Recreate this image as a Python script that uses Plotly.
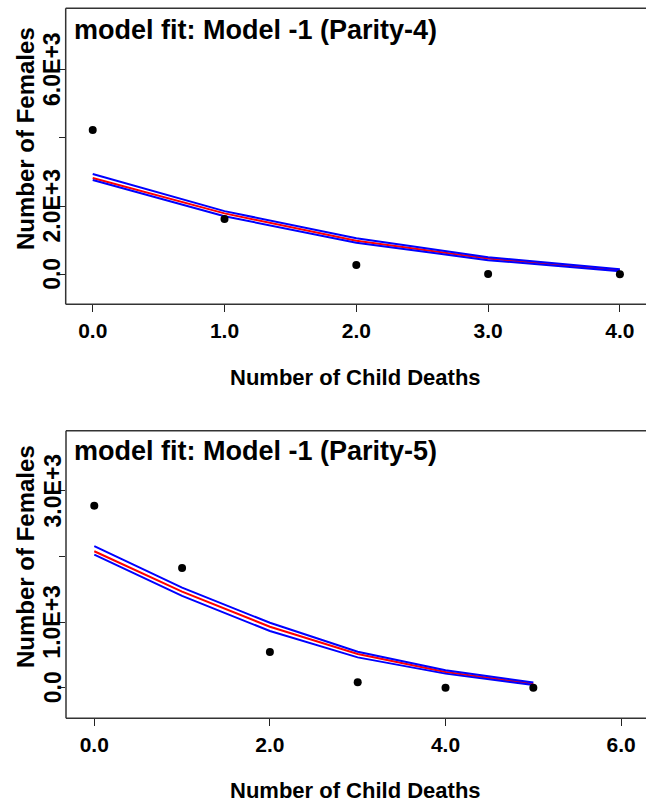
import plotly.graph_objects as go

# ---- Data: Parity-4 panel ----
x_p4 = [0, 1, 2, 3, 4]
obs_p4 = [4225, 1620, 275, 10, 0]
fit_p4 = [2820, 1785, 984, 460, 120]
upper_p4 = [2940, 1850, 1054, 500, 150]
lower_p4 = [2760, 1700, 925, 415, 90]

# ---- Data: Parity-5 panel ----
x_p5 = [0, 1, 2, 3, 4, 5]
obs_p5 = [2775, 1825, 545, 85, 0, 0]
fit_p5 = [2080, 1465, 930, 514, 240, 60]
upper_p5 = [2160, 1525, 990, 549, 265, 78]
lower_p5 = [2030, 1400, 864, 463, 215, 40]

title_p4 = "model fit: Model -1 (Parity-4)"
title_p5 = "model fit: Model -1 (Parity-5)"
xlab = "Number of Child Deaths"
ylab = "Number of Females"

xt_p4 = [0, 1, 2, 3, 4]
xtl_p4 = ["0.0", "1.0", "2.0", "3.0", "4.0"]
yt_p4 = [0, 2000, 4000, 6000]
ytl_p4 = ["0.0", "2.0E+3", "", "6.0E+3"]
xt_p5 = [0, 2, 4, 6]
xtl_p5 = ["0.0", "2.0", "4.0", "6.0"]
yt_p5 = [0, 1000, 2000, 3000]
ytl_p5 = ["0.0", "1.0E+3", "", "3.0E+3"]

W, H = 646, 805
FONT = "Liberation Sans, Arial, sans-serif"
RED = "#ff0000"
BLUE = "#0000ff"
FRAME = "#333333"

fig = go.Figure()

def add_panel(xs, obs, fit, up, lo, xa, ya):
    fig.add_trace(go.Scatter(x=xs, y=fit, mode="lines", line=dict(color=RED, width=2),
                             xaxis=xa, yaxis=ya, showlegend=False, hoverinfo="skip"))
    fig.add_trace(go.Scatter(x=xs, y=up, mode="lines", line=dict(color=BLUE, width=2),
                             xaxis=xa, yaxis=ya, showlegend=False, hoverinfo="skip"))
    fig.add_trace(go.Scatter(x=xs, y=lo, mode="lines", line=dict(color=BLUE, width=2),
                             xaxis=xa, yaxis=ya, showlegend=False, hoverinfo="skip"))
    fig.add_trace(go.Scatter(x=xs, y=obs, mode="markers",
                             marker=dict(color="black", size=8, line=dict(width=0)),
                             xaxis=xa, yaxis=ya, showlegend=False, hoverinfo="skip"))

add_panel(x_p4, obs_p4, fit_p4, upper_p4, lower_p4, "x", "y")
add_panel(x_p5, obs_p5, fit_p5, upper_p5, lower_p5, "x2", "y2")

def px_x(p):
    return p / W

def px_y(p):
    return (H - p) / H

axis_common = dict(showgrid=False, zeroline=False, showline=False,
                   ticks="outside", ticklen=7, tickwidth=1.3, tickcolor="#222222",
                   tickfont=dict(family=FONT, size=21, color="black", weight="bold"))

fig.update_layout(
    width=W, height=H, autosize=False,
    margin=dict(l=0, r=0, t=0, b=0),
    paper_bgcolor="white", plot_bgcolor="white",
    xaxis=dict(axis_common, domain=[px_x(65.7), 1], range=[-0.205, 4.198], anchor="y",
               tickvals=xt_p4, ticktext=xtl_p4, ticklabelstandoff=0),
    yaxis=dict(axis_common, domain=[px_y(304.3), px_y(8.3)], range=[-878, 7790], anchor="x",
               tickvals=yt_p4, showticklabels=False, ticklen=6),
    xaxis2=dict(axis_common, domain=[px_x(66), 1], range=[-0.322, 6.283], anchor="y2",
                tickvals=xt_p5, ticktext=xtl_p5, ticklabelstandoff=0),
    yaxis2=dict(axis_common, domain=[px_y(718.3), px_y(430.7)], range=[-466, 3918], anchor="x2",
                tickvals=yt_p5, showticklabels=False, ticklen=6),
)

# frame: left, top and bottom sides (right side is cropped off in the reference)
for xa, ya in (("x", "y"), ("x2", "y2")):
    for x0, y0, x1, y1 in ((0, 0, 0, 1), (0, 1, 1, 1), (0, 0, 1, 0)):
        fig.add_shape(type="line", xref=xa + " domain", yref=ya + " domain",
                      x0=x0, y0=y0, x1=x1, y1=y1, line=dict(color=FRAME, width=1.5))

def ann(text, x, y, size, angle=0, xanchor="center", yanchor="middle"):
    fig.add_annotation(text=text, x=px_x(x), y=px_y(y), xref="paper", yref="paper",
                       showarrow=False, textangle=angle, xanchor=xanchor, yanchor=yanchor,
                       font=dict(family=FONT, size=size, color="black", weight="bold"))

# rotated y tick labels, placed at the tick values through the y axes
for vals, texts, yref in ((yt_p4, ytl_p4, "y"), (yt_p5, ytl_p5, "y2")):
    for v, t in zip(vals, texts):
        if t:
            fig.add_annotation(text=t, x=px_x(52.5), y=v, xref="paper", yref=yref,
                               showarrow=False, textangle=-90, xanchor="center", yanchor="middle",
                               font=dict(family=FONT, size=23, color="black", weight="bold"))

ann(title_p4, 72, 30, 27, xanchor="left")
ann(title_p5, 72, 451, 27, xanchor="left")
ann(xlab, 355, 378, 22)
ann(xlab, 355, 790, 22)
ann(ylab, 25.5, 138.5, 24, angle=-90)
ann(ylab, 25.5, 556.5, 24, angle=-90)

fig.write_html("out.html", config={"displayModeBar": False},
               post_script="document.body.style.margin='0';document.body.style.overflow='hidden';")
